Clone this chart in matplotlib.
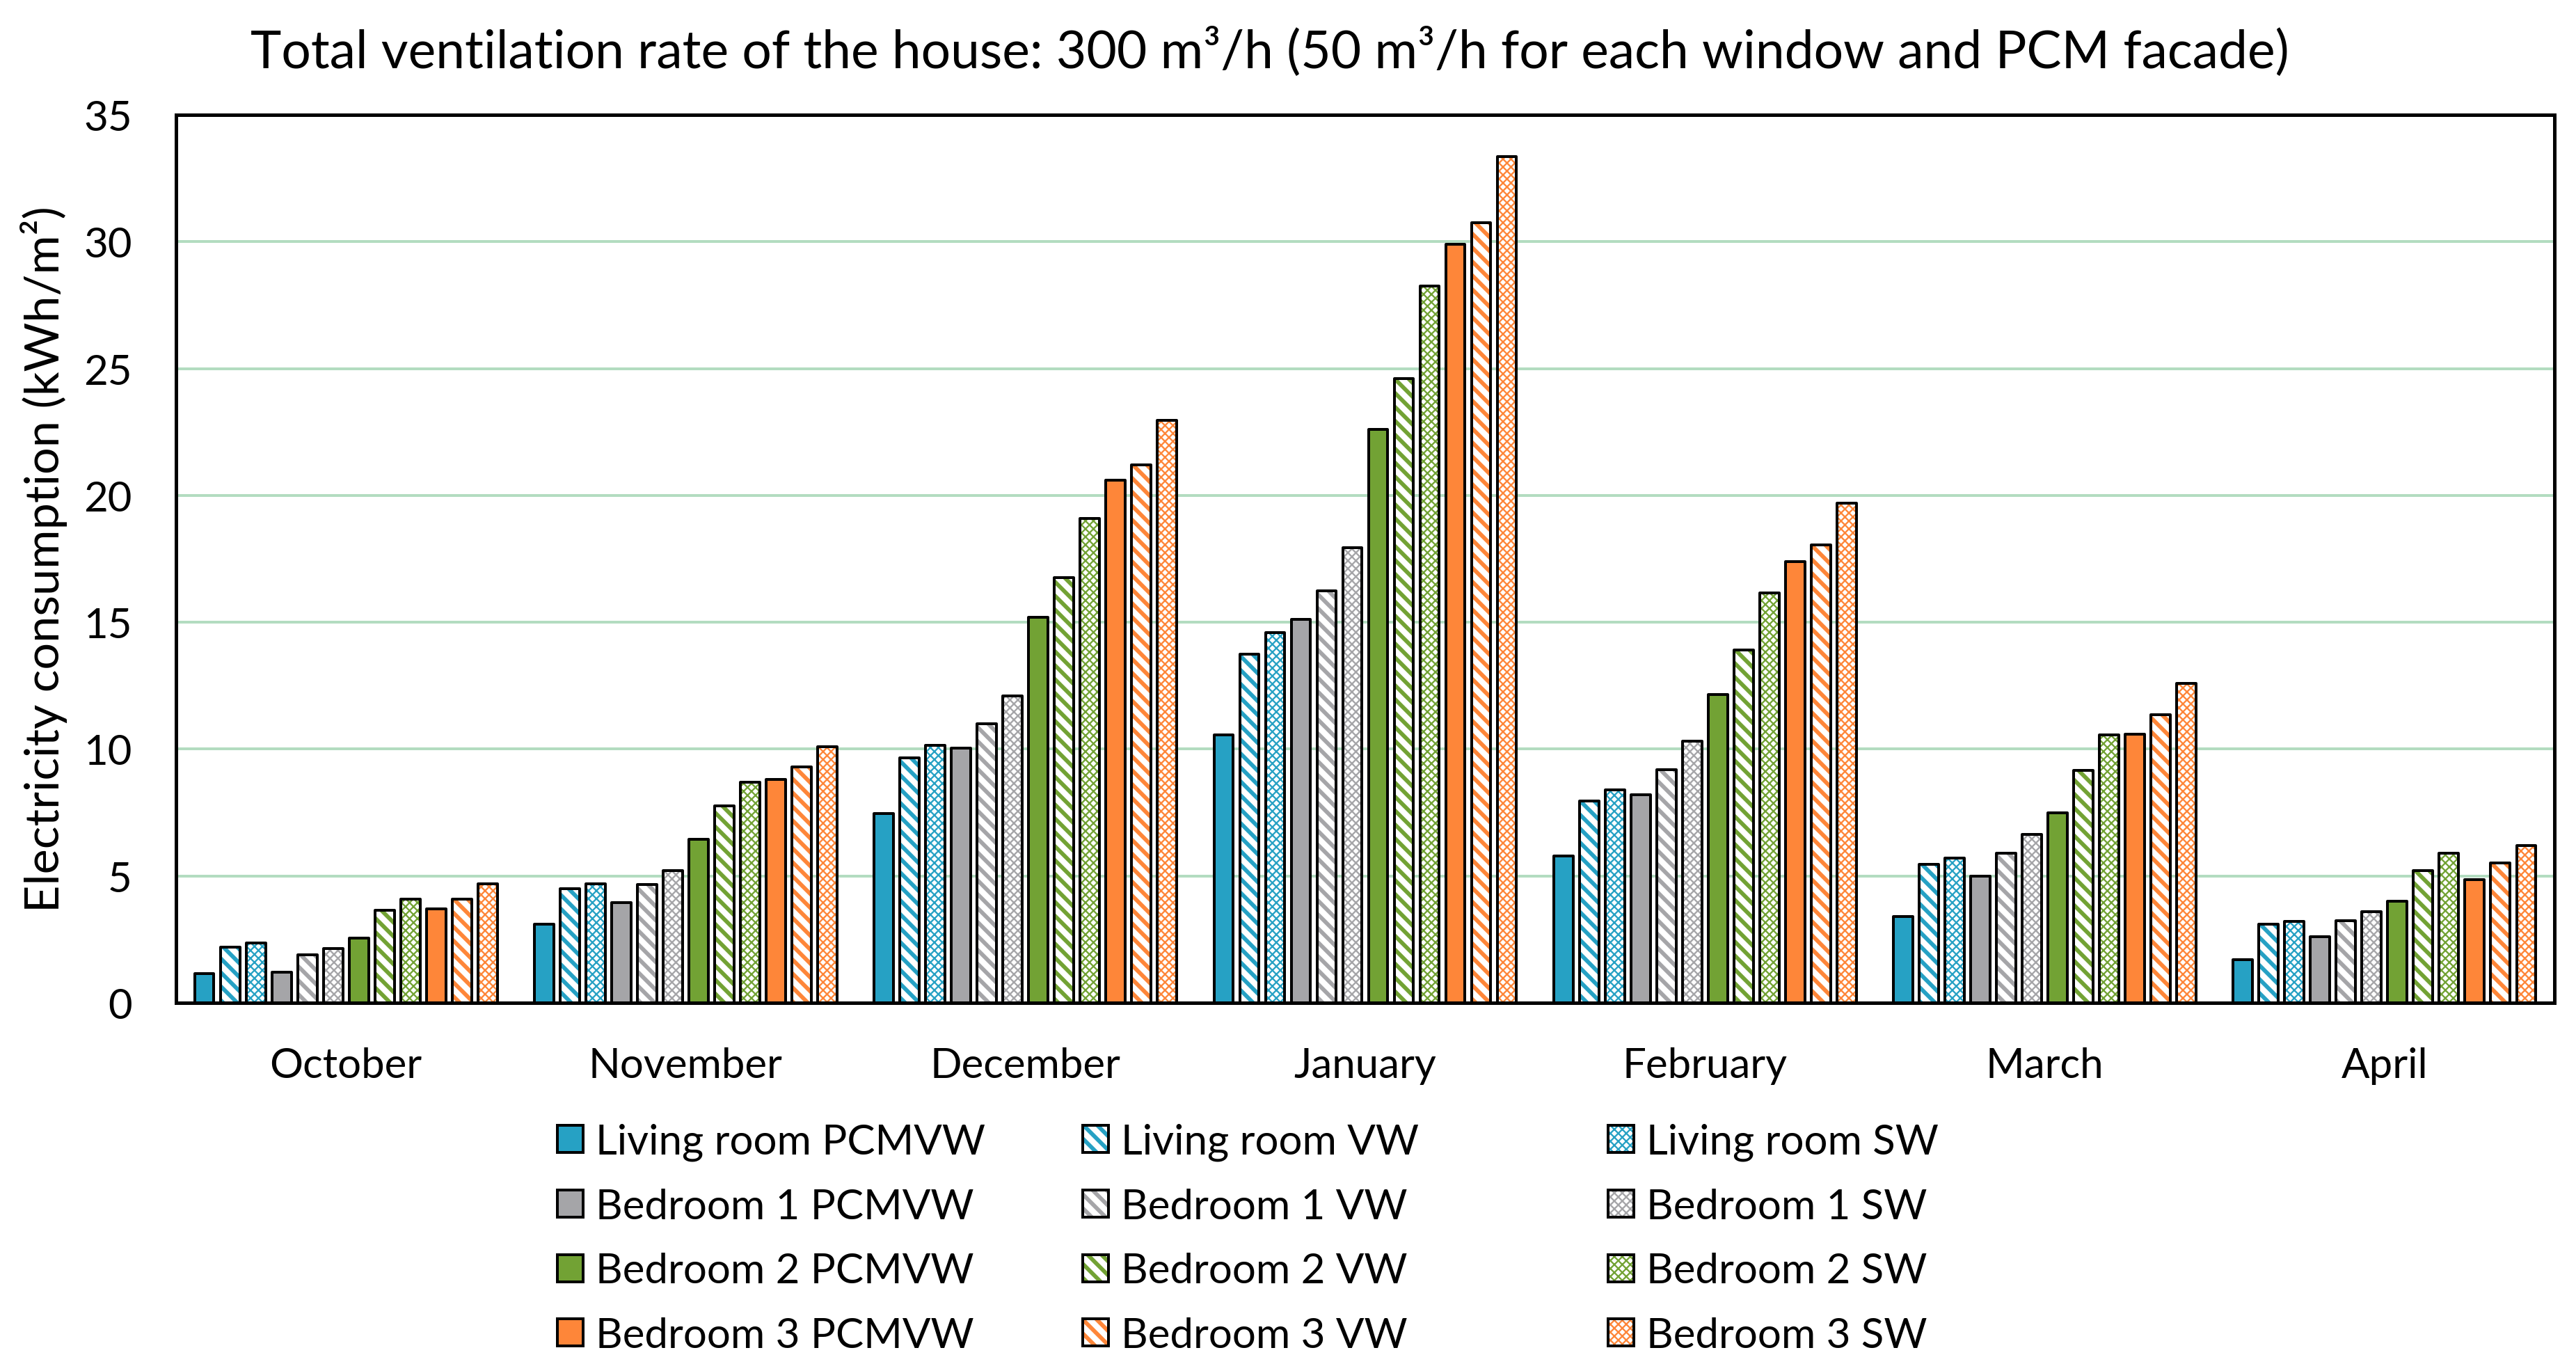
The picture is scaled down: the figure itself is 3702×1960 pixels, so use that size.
import matplotlib
matplotlib.use("Agg")
import matplotlib.pyplot as plt
import numpy as np
from matplotlib.patches import Patch

months = ["October", "November", "December", "January", "February", "March", "April"]

# electricity consumption, kWh/m2, per month
lr_pcmvw = [1.15, 3.1, 7.45, 10.55, 5.8, 3.4, 1.7]
lr_vw = [2.2, 4.5, 9.65, 13.75, 7.95, 5.45, 3.1]
lr_sw = [2.35, 4.7, 10.15, 14.6, 8.4, 5.7, 3.2]
b1_pcmvw = [1.2, 3.95, 10.05, 15.1, 8.2, 5.0, 2.6]
b1_vw = [1.9, 4.65, 11.0, 16.25, 9.2, 5.9, 3.25]
b1_sw = [2.15, 5.2, 12.1, 17.95, 10.3, 6.65, 3.6]
b2_pcmvw = [2.55, 6.45, 15.2, 22.6, 12.15, 7.5, 4.0]
b2_vw = [3.65, 7.75, 16.75, 24.6, 13.9, 9.15, 5.2]
b2_sw = [4.1, 8.7, 19.1, 28.25, 16.15, 10.55, 5.9]
b3_pcmvw = [3.7, 8.8, 20.6, 29.9, 17.4, 10.6, 4.85]
b3_vw = [4.1, 9.3, 21.2, 30.75, 18.05, 11.35, 5.5]
b3_sw = [4.7, 10.1, 22.95, 33.35, 19.7, 12.6, 6.2]

rooms = ["Living room", "Bedroom 1", "Bedroom 2", "Bedroom 3"]
room_colors = ["#26a1c4", "#a5a5a8", "#72a234", "#fe8639"]
variants = ["PCMVW", "VW", "SW"]
values = [
    [lr_pcmvw, lr_vw, lr_sw],
    [b1_pcmvw, b1_vw, b1_sw],
    [b2_pcmvw, b2_vw, b2_sw],
    [b3_pcmvw, b3_vw, b3_sw],
]

hatches = {"PCMVW": None, "VW": "\\\\\\\\", "SW": "xxxxxxx"}
hatch_widths = {"PCMVW": 1.0, "VW": 1.75, "SW": 0.7}

plt.rcParams["font.family"] = ["Lato", "DejaVu Sans"]
plt.rcParams["hatch.linewidth"] = 1.0

dpi = 240
figure = plt.figure(figsize=(3702 / dpi, 1961 / dpi), dpi=dpi)
axis = figure.add_axes([253 / 3702, 1 - 1442 / 1961, 3418 / 3702, 1276 / 1961])

x = np.arange(len(months))
slot = 0.0758
bar_width = 0.057
edge = 1.2


def set_hatch_width(patches, lw):
    for p in patches:
        if hasattr(p, "set_hatch_linewidth"):
            p.set_hatch_linewidth(lw)


def hatched_handle(color, variant):
    hatch = hatches[variant]
    if hatch is None:
        return Patch(facecolor=color, edgecolor="black", linewidth=edge, joinstyle="round")
    inner = Patch(facecolor="white", edgecolor=color, hatch=hatch, linewidth=0)
    outer = Patch(facecolor="none", edgecolor="black", linewidth=edge, joinstyle="round")
    return (inner, outer)


columns = {v: ([], []) for v in variants}
i = 0
for room, color, room_values in zip(rooms, room_colors, values):
    for variant, vals in zip(variants, room_values):
        offset = (i - 5.5) * slot
        hatch = hatches[variant]
        if hatch is None:
            axis.bar(x + offset, vals, bar_width, color=color, edgecolor="black",
                     linewidth=edge, joinstyle="round", zorder=3)
        else:
            bars = axis.bar(x + offset, vals, bar_width, color="white", edgecolor=color,
                            hatch=hatch, linewidth=0, zorder=3)
            set_hatch_width(bars, hatch_widths[variant])
            axis.bar(x + offset, vals, bar_width, color="none", edgecolor="black",
                     linewidth=edge, joinstyle="round", zorder=4)
        columns[variant][0].append(hatched_handle(color, variant))
        columns[variant][1].append(f"{room} {variant}")
        i += 1

axis.set_xlim(-0.5, len(months) - 0.5)
axis.set_ylim(0, 35)
axis.set_yticks(np.arange(0, 36, 5))
axis.set_xticks(x)
axis.set_xticklabels(months)
axis.tick_params(axis="both", length=0, labelsize=18)
axis.tick_params(axis="y", pad=19)
axis.tick_params(axis="x", pad=19)
axis.yaxis.grid(True, color="#b3dcc0", linewidth=1.2)
axis.set_axisbelow(True)
for spine in axis.spines.values():
    spine.set_linewidth(1.5)
    spine.set_color("black")

axis.set_ylabel("Electricity consumption (kWh/m²)", fontsize=20.5, labelpad=7)
figure.text(1825 / 3702, 1 - 98 / 1961,
            "Total ventilation rate of the house: 300 m³/h (50 m³/h for each window and PCM facade)",
            fontsize=22.5, ha="center", va="baseline")

# one legend per column; the legend copies of the hatched patches take
# the hatch width from rcParams when they are built
legend_x = [801, 1556, 2311]
for col_x, variant in zip(legend_x, variants):
    handles, labels = columns[variant]
    plt.rcParams["hatch.linewidth"] = hatch_widths[variant]
    legend = figure.legend(handles, labels, loc="upper left",
                           bbox_to_anchor=(col_x / 3702, 1 - 1615 / 1961),
                           frameon=False, fontsize=18, borderpad=0, borderaxespad=0,
                           handlelength=0.62, handleheight=0.62, handletextpad=0.3,
                           labelspacing=0.64)
    for h in legend.legend_handles:
        set_hatch_width([h], hatch_widths[variant])

figure.savefig("out.png", dpi=dpi)
plt.close(figure)
